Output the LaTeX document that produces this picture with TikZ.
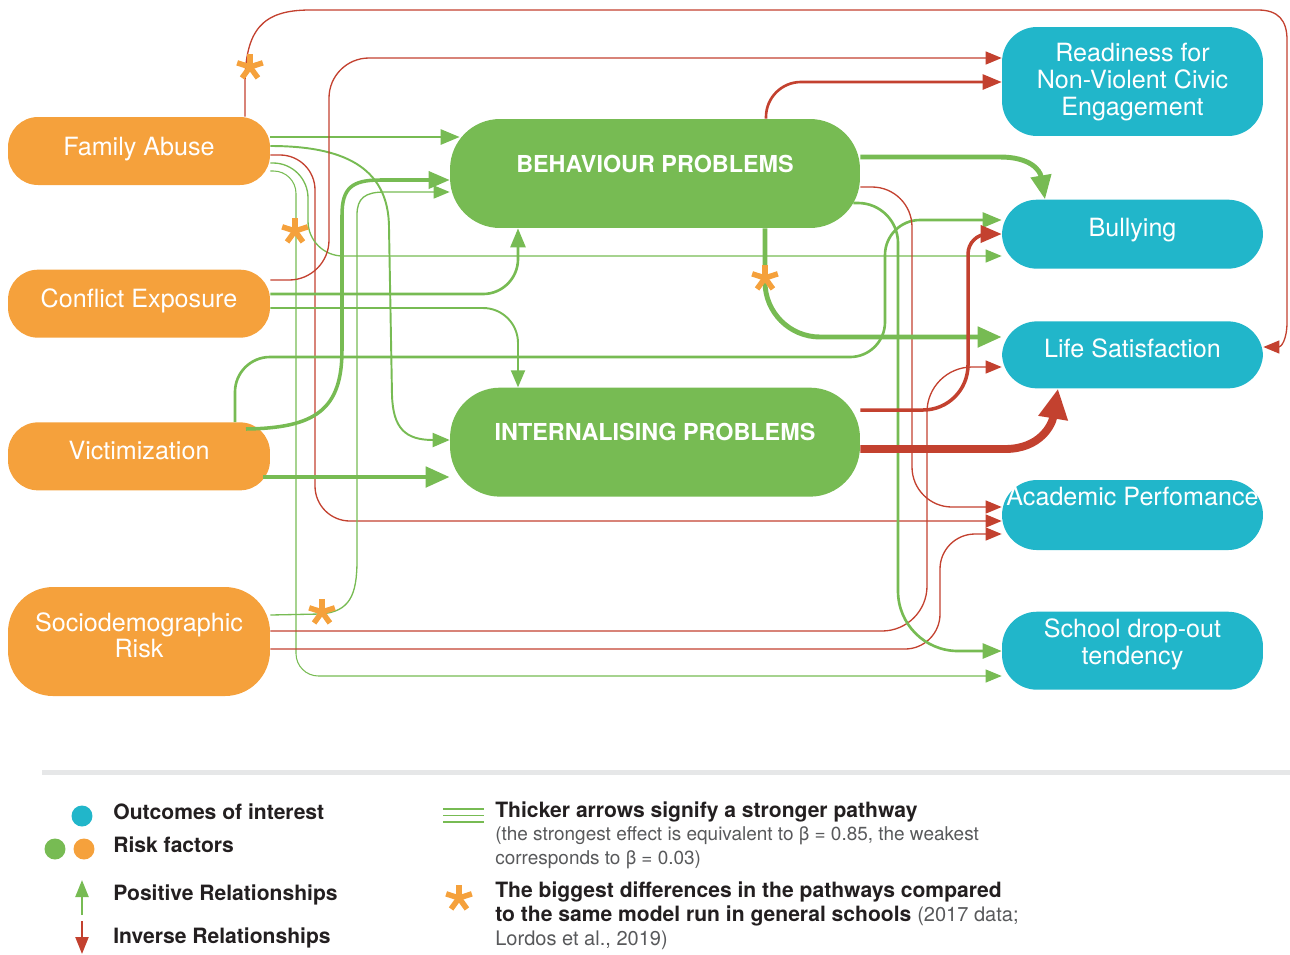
\documentclass[tikz,border=0pt]{standalone}
\usepackage{fontspec}
\setmainfont{TeX Gyre Heros}
\usetikzlibrary{arrows.meta}
\usetikzlibrary{positioning}
\usetikzlibrary{calc}

\definecolor{riskorange}{HTML}{F5A13C}
\definecolor{probgreen}{HTML}{77BB53}
\definecolor{outteal}{HTML}{21B6CA}
\definecolor{invred}{HTML}{C3412F}
\definecolor{rulegray}{HTML}{E6E7E8}
\definecolor{legendink}{HTML}{231F20}
\definecolor{notegray}{HTML}{58595B}

\tikzset {
  box/.style = {
    draw = none,
    text = white,
    inner sep = 0,
    text depth = 0.26cm,
    font = \fontsize{14.3}{15.2}\selectfont
  },
  % risk factor
  risk/.style = {
    box,
    fill = riskorange,
    minimum width = 5.24cm,
    minimum height = 1.36cm,
    rounded corners = 0.6cm
  },
  % mediating problem
  problem/.style = {
    box,
    fill = probgreen,
    minimum width = 8.2cm,
    minimum height = 2.18cm,
    rounded corners = 1cm,
    text depth = 0.4cm,
    font = \bfseries\fontsize{13.3}{15}\selectfont
  },
  % outcome of interest
  outcome/.style = {
    box,
    fill = outteal,
    minimum width = 5.22cm,
    rounded corners = 0.7cm
  }
}
\tikzset {
  link/.style = {line cap = butt},
  posrel/.style = {link, draw = probgreen},
  negrel/.style = {link, draw = invred},
  % path widths, weakest to strongest
  faint/.style = {line width = 0.75pt, -{Triangle[length = 0.32cm, width = 0.26cm]}},
  weak/.style = {line width = 1.1pt, -{Triangle[length = 0.34cm, width = 0.28cm]}},
  fair/.style = {line width = 1.5pt, -{Triangle[length = 0.38cm, width = 0.3cm]}},
  firm/.style = {line width = 2pt, -{Triangle[length = 0.42cm, width = 0.34cm]}},
  strong/.style = {line width = 2.8pt, -{Triangle[length = 0.48cm, width = 0.4cm]}},
  strongest/.style = {line width = 4.5pt, -{Triangle[length = 0.6cm, width = 0.56cm]}},
  % difference marker
  diff/.pic = {
    \foreach \a in {90, 18, 162, 234, 306}
      \draw[riskorange, line width = 0.11cm] (0,0) -- (\a:0.27cm);
  },
  key/.style = {
    anchor = west,
    inner sep = 0,
    text = legendink,
    font = \bfseries\fontsize{12}{14}\selectfont
  },
  keynote/.style = {
    key,
    text = notegray,
    font = \fontsize{10.8}{13}\selectfont
  }
}

\begin{document}
\begin{tikzpicture}[x = 0.02cm, y = -0.02cm]
  \useasboundingbox (0,0) rectangle (1290,954);

  % risk factors
  \node[risk, text depth = 0.2cm] (family) at (139,151) {Family Abuse};
  \node[risk, text depth = 0.22cm] (conflict) [below=1.68cm of family] {Conflict Exposure};
  \node[risk] (victim) [below=1.68cm of conflict] {Victimization};
  \node[risk, minimum height = 2.18cm, rounded corners = 0.9cm, align = center] (socio) [below=1.92cm of victim] {Sociodemographic\\Risk};

  % problems
  \node[problem] (behav) at (655,173.5) {BEHAVIOUR PROBLEMS};
  \node[problem] (intern) [below=3.18cm of behav] {INTERNALISING PROBLEMS};

  % outcomes
  \node[outcome, minimum height = 2.18cm, align = center, text depth = 0.08cm] (ready) at (1132.5,81.5) {Readiness for\\Non-Violent Civic\\Engagement};
  \node[outcome, minimum height = 1.38cm] (bully) [below=1.26cm of ready] {Bullying};
  \node[outcome, minimum height = 1.34cm, text depth = 0.28cm] (life) [below=1.04cm of bully] {Life Satisfaction};
  \node[outcome, minimum height = 1.4cm, text depth = 0.73cm] (acad) [below=1.82cm of life] {Academic Perfomance};
  \node[outcome, minimum height = 1.56cm, align = center, text depth = 0.36cm] (school) [below=1.22cm of acad] {School drop-out\\tendency};

  % family abuse
  \draw[negrel, faint] (family.north -| 245,0)
    -- (245,85)
    .. controls (245,30) and (262,10) .. (310,10)
    -- (1258,10)
    .. controls (1278,10) and (1287,20) .. (1287,40)
    -- (1287,322)
    .. controls (1287,340) and (1281,347) .. (life.east |- 0,347);
  \draw[posrel, fair, shorten >= -0.2cm] (family.east |- 0,137) -- (behav.west |- 0,137);
  \draw[posrel, weak] (family.east |- 0,146)
    .. controls (340,146) and (389,165) .. (389,228)
    -- (392,395)
    .. controls (393,428) and (405,440) .. (intern.west |- 0,440);
  \draw[negrel, faint, rounded corners = 0.7cm] (family.east |- 0,155) -| (315,521) -- (acad.west |- 0,521);
  \draw[posrel, faint, rounded corners = 0.7cm] (family.east |- 0,163) -| (308,256) -- (bully.west |- 0,256);
  \draw[posrel, faint, line width = 0.6pt, rounded corners = 0.45cm] (family.east |- 0,171) -| (296,676) -- (school.west |- 0,676);

  % conflict exposure
  \draw[negrel, faint, rounded corners = 0.8cm] (conflict.east |- 0,280) -| (329,58) -- (ready.west |- 0,58);
  \draw[posrel, fair, rounded corners = 0.7cm] (conflict.east |- 0,294) -| (behav.south -| 518,0);
  \draw[posrel, weak, rounded corners = 0.7cm] (conflict.east |- 0,308) -| (intern.north -| 518,0);

  % victimization
  \draw[posrel, fair, rounded corners = 0.7cm] (victim.north -| 235,0) |- (885,357) |- (bully.west |- 0,220);
  \draw[posrel, firm] ($(victim.north -| 246,0)+(0,7)$)
    .. controls (315,428) and (342,410) .. (342,350)
    -- (342,215)
    .. controls (342,188) and (352,180) .. (380,180)
    -- (behav.west |- 0,180);
  \draw[posrel, strong] ($(victim.east |- 0,477)+(-7,0)$) -- (intern.west |- 0,477);

  % sociodemographic risk
  \draw[posrel, faint] (socio.east |- 0,615)
    -- (320,614)
    .. controls (350,612) and (357,595) .. (357,560)
    -- (357,215)
    .. controls (357,198) and (365,192) .. (385,192)
    -- (behav.west |- 0,192);
  \draw[negrel, faint, rounded corners = 0.9cm] (socio.east |- 0,631) -| (927,367) -- (life.west |- 0,367);
  \draw[negrel, faint, rounded corners = 0.7cm] (socio.east |- 0,649) -| (940,534) -- (acad.west |- 0,534);

  % behaviour problems
  \draw[negrel, fair, rounded corners = 0.7cm] (behav.north -| 766,0) |- (ready.west |- 0,82);
  \draw[posrel, strong] (behav.east |- 0,157)
    -- (1000,157)
    .. controls (1030,157) and (1040,170) .. (bully.north -| 1045,0);
  \draw[negrel, faint, rounded corners = 0.8cm] (behav.east |- 0,187) -| (912,507) -- (acad.west |- 0,507);
  \draw[posrel, fair] ($(behav.east |- 0,203)+(-7,0)$)
    [rounded corners = 0.8cm] -| (898,420)
    [rounded corners = 1.2cm] |- (school.west |- 0,651);
  \draw[posrel, strong, rounded corners = 1.1cm] (behav.south -| 765,0) |- (life.west |- 0,337);

  % internalising problems
  \draw[negrel, firm] (intern.east |- 0,410)
    [rounded corners = 0.9cm] -| (968,300)
    [rounded corners = 0.4cm] |- (bully.west |- 0,234);
  \draw[negrel, strongest] (intern.east |- 0,449)
    -- (1005,449)
    .. controls (1040,449) and (1052,425) .. (life.south -| 1058,0);

  % biggest differences
  \pic at (250,67) {diff};
  \pic at (295,231) {diff};
  \pic at (322,612) {diff};
  \pic at (765,278) {diff};

  % legend
  \fill[rulegray] (42,770) rectangle (1290,775);
  \fill[outteal] (82,816) circle (0.21cm);
  \fill[probgreen] (55,849) circle (0.21cm);
  \fill[riskorange] (84,849) circle (0.21cm);
  \draw[posrel, line width = 1.3pt, -{Triangle[length = 0.34cm, width = 0.26cm]}] (82,915) -- (82,880);
  \draw[negrel, line width = 1.3pt, -{Triangle[length = 0.34cm, width = 0.26cm]}] (82,921) -- (82,954);
  \node[key] (outcomes) at (113,812) {Outcomes of interest};
  \node[key] (riskkey) at (113,845) {Risk factors};
  \node[key] (positive) at (113,895) {Positive Relationships};
  \node[key] (inverse) at (113,938) {Inverse Relationships};

  \draw[posrel, line width = 0.6pt] (443,809) -- (484,809);
  \draw[posrel, line width = 0.9pt] (443,815.5) -- (484,815.5);
  \draw[posrel, line width = 1.6pt] (443,822) -- (484,822);
  \node[key] (thicker) at (495,812) {Thicker arrows signify a stronger pathway};
  \node[keynote] (strongest) at (495,836) {(the strongest effect is equivalent to β = 0.85, the weakest};
  \node[keynote] (weakest) at (495,860) {corresponds to β = 0.03)};

  \pic at (459,898) {diff};
  \node[key] (biggest) at (495,892) {The biggest differences in the pathways compared};
  \node[key] (general) at (495,916) {to the same model run in general schools {\mdseries\color{notegray}\fontsize{11.4}{13}\selectfont (2017 data;}};
  \node[keynote, font = \fontsize{11.4}{13}\selectfont] (lordos) at (495,940) {Lordos et al., 2019)};
\end{tikzpicture}
\end{document}
